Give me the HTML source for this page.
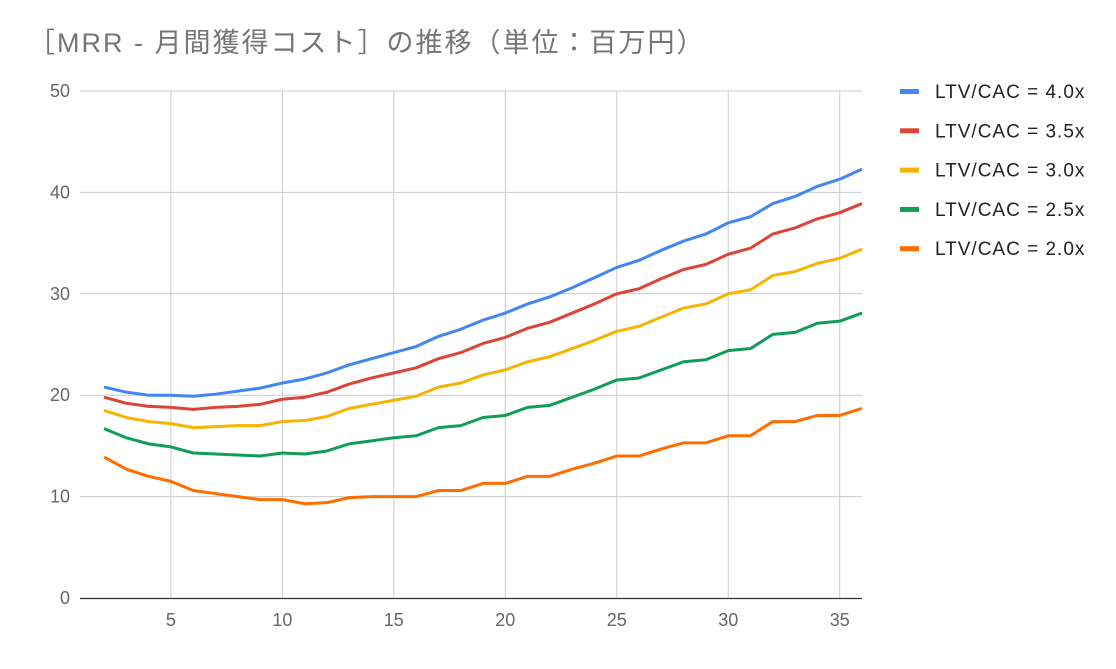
<!DOCTYPE html>
<html><head><meta charset="utf-8"><style>
body{margin:0;background:#fff;width:1116px;height:664px;overflow:hidden}
svg text{font-family:"Liberation Sans","Noto Sans CJK JP",sans-serif}
</style></head><body>
<svg id="s" width="1116" height="664" xmlns="http://www.w3.org/2000/svg">
<text x="28" y="52" font-size="27" fill="#757575" letter-spacing="2">［MRR - 月間獲得コスト］の推移（単位：百万円）</text>
<g id="grid" stroke="#cccccc" stroke-width="1"></g>
<g id="lab" font-size="18" fill="#666"></g>
<line x1="80" y1="598.5" x2="862" y2="598.5" stroke="#333" stroke-width="1.2"/>
<g id="ser" fill="none" stroke-width="3" stroke-linejoin="round"></g>
<g id="leg" font-size="19" fill="#222" letter-spacing="1"></g>
</svg>
<script>
const ns="http://www.w3.org/2000/svg";
function el(p,t,a,txt){const e=document.createElementNS(ns,t);for(const k in a)e.setAttribute(k,a[k]);if(txt!==undefined)e.textContent=txt;document.getElementById(p).appendChild(e);}
const X=x=>104+(x-2)*(862-104)/34, Y=y=>598-y*10.14;
for(let v=10;v<=50;v+=10){el("grid","line",{x1:80,x2:862,y1:Y(v),y2:Y(v)});}
for(let v=5;v<=35;v+=5){el("grid","line",{x1:X(v),x2:X(v),y1:Y(50),y2:598});el("lab","text",{x:X(v),y:626,"text-anchor":"middle"},v);}
for(let v=0;v<=50;v+=10){el("lab","text",{x:70,y:Y(v)+6,"text-anchor":"end"},v);}
const D=[
["#4285f4","LTV/CAC = 4.0x",[20.8,20.3,20.0,20.0,19.9,20.1,20.4,20.7,21.2,21.6,22.2,23.0,23.6,24.2,24.8,25.8,26.5,27.4,28.1,29.0,29.7,30.6,31.6,32.6,33.3,34.3,35.2,35.9,37.0,37.6,38.9,39.6,40.6,41.3,42.3]],
["#db4437","LTV/CAC = 3.5x",[19.8,19.2,18.9,18.8,18.6,18.8,18.9,19.1,19.6,19.8,20.3,21.1,21.7,22.2,22.7,23.6,24.2,25.1,25.7,26.6,27.2,28.1,29.0,30.0,30.5,31.5,32.4,32.9,33.9,34.5,35.9,36.5,37.4,38.0,38.9]],
["#f4b400","LTV/CAC = 3.0x",[18.5,17.8,17.4,17.2,16.8,16.9,17.0,17.0,17.4,17.5,17.9,18.7,19.1,19.5,19.9,20.8,21.2,22.0,22.5,23.3,23.8,24.6,25.4,26.3,26.8,27.7,28.6,29.0,30.0,30.4,31.8,32.2,33.0,33.5,34.4]],
["#0f9d58","LTV/CAC = 2.5x",[16.7,15.8,15.2,14.9,14.3,14.2,14.1,14.0,14.3,14.2,14.5,15.2,15.5,15.8,16.0,16.8,17.0,17.8,18.0,18.8,19.0,19.8,20.6,21.5,21.7,22.5,23.3,23.5,24.4,24.6,26.0,26.2,27.1,27.3,28.1]],
["#ff6d01","LTV/CAC = 2.0x",[13.9,12.7,12.0,11.5,10.6,10.3,10.0,9.7,9.7,9.3,9.4,9.9,10.0,10.0,10.0,10.6,10.6,11.3,11.3,12.0,12.0,12.7,13.3,14.0,14.0,14.7,15.3,15.3,16.0,16.0,17.4,17.4,18.0,18.0,18.7]]];
D.slice().reverse().forEach(s=>{el("ser","polyline",{stroke:s[0],points:s[2].map((v,i)=>X(i+2)+","+Y(v)).join(" ")});});
D.forEach((s,i)=>{const y=91+i*39.3;el("leg","rect",{x:900,y:y-2,width:19,height:5,fill:s[0]});el("leg","text",{x:935,y:y+7},s[1]);});
</script>
</body></html>
